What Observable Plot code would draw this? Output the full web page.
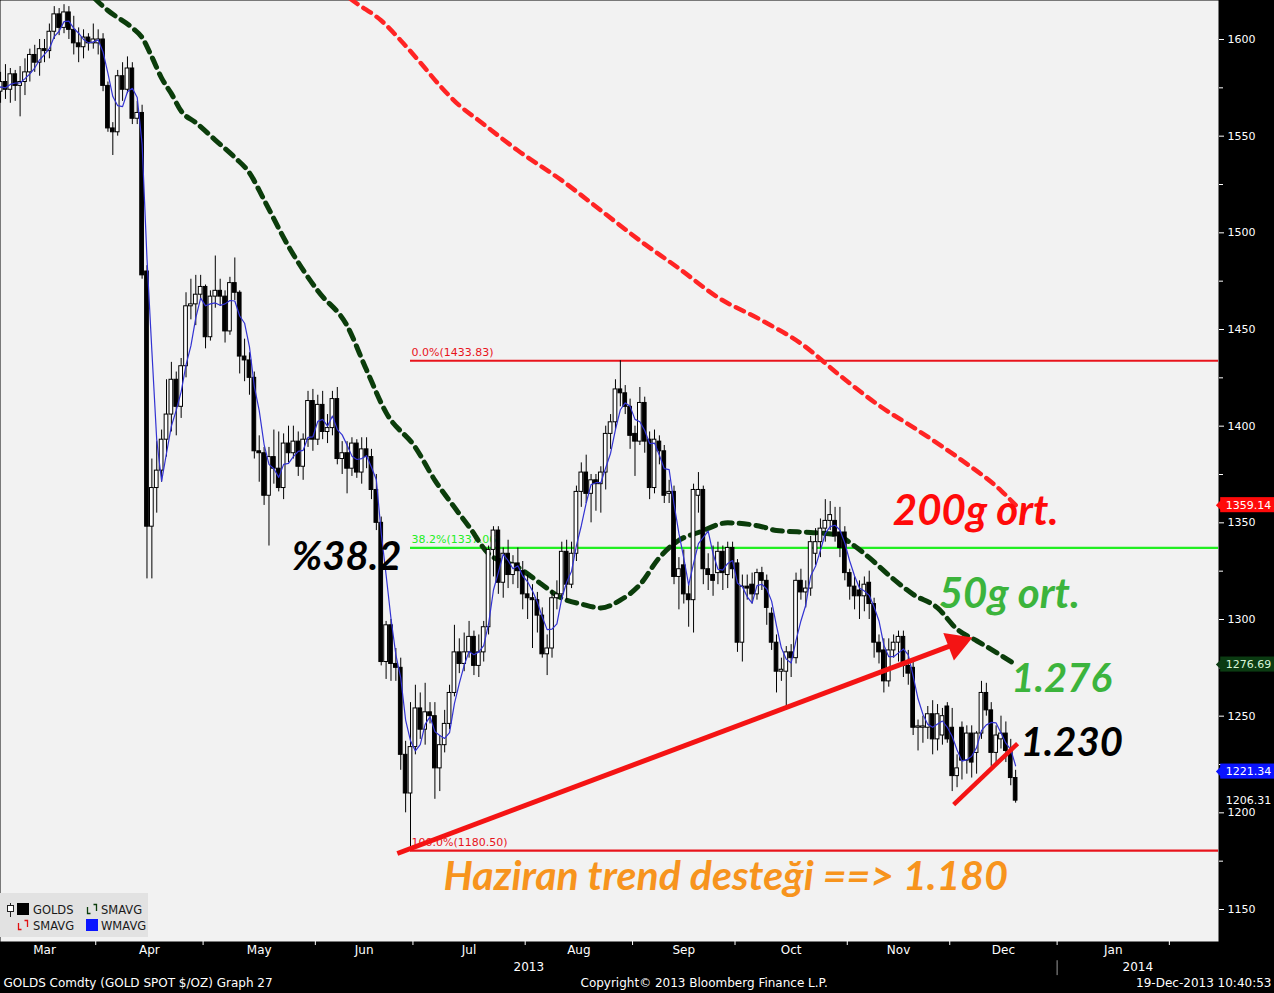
<!DOCTYPE html>
<html><head><meta charset="utf-8">
<script src="https://cdn.jsdelivr.net/npm/d3@7"></script>
<script src="https://cdn.jsdelivr.net/npm/@observablehq/plot@0.6"></script>
<style>
body{margin:0;background:#000;}
#wrap{position:relative;width:1274px;height:993px;overflow:hidden;background:#000;}
#legend{position:absolute;left:0;top:893px;width:148px;height:44px;background:#e2e2e2;font:11.5px "DejaVu Sans",sans-serif;color:#1a1a1a;}
#legend span{position:absolute;line-height:12px;}
#legend svg{position:absolute;}
</style></head><body><div id="wrap"></div>
<script>
// ---- daily OHLC, index 0 = 1 Mar 2013 (weekdays) ----
const opens = [
1579,1573,1578,1574,1582,1576,1578,1583,1592,1588,1595,1594,1604,1613,1606,1614,1605,1598,1596,1601,1598,
1598,1600,1576,1554,1552,1581,1574,1585,1559,1562,1480,1348,1368,1377,1393,1406,1424,1410,1431,1462,1463,1468,
1472,1446,1467,1470,1467,1449,1474,1469,1436,1434,1425,1387,1386,1364,1384,1378,1368,1391,1386,1392,1379,1393,1413,
1393,1411,1397,1399,1414,1383,1386,1378,1391,1376,1388,1384,1367,1350,1278,1297,1277,1275,1230,1210,
1234,1254,1243,1252,1250,1223,1235,1246,1262,1283,1277,1283,1291,1276,1283,1296,1336,1346,1319,1334,1323,1329,1325,
1313,1311,1310,1302,1282,1285,1311,1313,1335,1318,1334,1366,1376,1365,1372,1370,1376,1396,1402,1419,1417,1410,
1396,1392,1412,1393,1368,1392,1387,1365,1366,1322,1328,1313,1310,1364,1367,1326,1323,1324,1335,1323,1337,
1329,1288,1317,1318,1313,1324,1320,1303,1288,1273,1273,1283,1280,1320,1314,1316,1334,1340,1347,1351,1351,1345,1345,
1324,1317,1315,1312,1319,1308,1288,1284,1268,1284,1288,1291,1276,1275,1244,1244,1244,1251,1238,1240,1255,
1244,1219,1244,1227,1241,1231,1241,1262,1253,1231,1238,1241,1232,1218];
const highs = [
1585,1583,1587,1585,1584,1586,1590,1595,1597,1600,1600,1608,1617,1616,1618,1617,1612,1606,1605,1603,1608,
1605,1603,1578,1557,1584,1588,1591,1588,1568,1566,1483,1383,1392,1398,1424,1433,1428,1435,1469,1476,1478,1478,
1473,1470,1488,1476,1470,1477,1487,1470,1445,1438,1428,1395,1389,1389,1398,1397,1396,1400,1400,1397,1396,1418,1419,
1416,1418,1406,1418,1420,1392,1392,1394,1393,1394,1394,1388,1375,1353,1299,1300,1285,1280,1237,1257,
1266,1262,1267,1257,1257,1240,1253,1266,1297,1290,1293,1299,1294,1292,1299,1338,1348,1348,1337,1341,1333,1337,1330,
1323,1318,1314,1306,1292,1315,1320,1340,1341,1340,1369,1381,1385,1375,1375,1379,1400,1406,1424,1433.83,1421,1414,
1400,1420,1415,1397,1398,1395,1390,1372,1369,1332,1336,1318,1370,1376,1369,1334,1338,1340,1338,1340,1340,
1331,1323,1323,1324,1326,1327,1323,1306,1292,1280,1286,1287,1324,1326,1320,1343,1347,1352,1362,1361,1358,1358,1348,
1326,1322,1320,1322,1325,1311,1292,1290,1290,1292,1294,1294,1284,1278,1248,1250,1255,1258,1256,1254,1257,
1254,1230,1247,1245,1245,1242,1268,1267,1257,1245,1250,1247,1238,1222];
const lows = [
1566,1567,1569,1567,1568,1560,1571,1578,1583,1581,1588,1590,1600,1602,1603,1600,1592,1588,1590,1594,1595,
1592,1573,1552,1540,1550,1568,1572,1556,1556,1476,1321,1321,1355,1371,1384,1397,1395,1404,1425,1455,1452,1465,
1440,1444,1461,1462,1443,1447,1465,1427,1423,1416,1383,1371,1359,1338,1370,1366,1362,1381,1383,1374,1372,1389,1387,
1390,1393,1391,1395,1380,1375,1365,1374,1373,1370,1378,1362,1346,1276,1269,1268,1268,1222,1200,1180.5,
1230,1238,1235,1246,1207,1211,1231,1243,1260,1272,1273,1280,1271,1270,1278,1292,1322,1313,1311,1316,1318,1316,1305,
1300,1285,1293,1280,1271,1280,1305,1310,1310,1316,1330,1358,1360,1350,1356,1355,1367,1388,1398,1410,1406,1388,
1374,1390,1386,1362,1365,1380,1360,1360,1318,1305,1308,1296,1293,1355,1318,1315,1312,1318,1315,1316,1321,
1283,1278,1310,1308,1310,1315,1297,1284,1262,1268,1253,1270,1277,1310,1306,1312,1328,1332,1340,1346,1340,1332,1320,
1310,1305,1300,1304,1300,1280,1277,1262,1265,1280,1278,1270,1266,1240,1232,1236,1238,1230,1232,1235,1236,
1211,1213,1217,1220,1218,1220,1238,1250,1224,1224,1233,1226,1214,1205];
const closes = [
1573,1578,1574,1582,1576,1578,1583,1592,1588,1595,1594,1604,1613,1606,1614,1605,1598,1596,1601,1598,1600,
1600,1576,1554,1552,1581,1574,1585,1559,1562,1478,1348,1368,1377,1393,1406,1424,1410,1431,1462,1463,1468,1472,
1446,1467,1470,1467,1449,1474,1469,1436,1434,1425,1387,1386,1364,1384,1378,1368,1391,1386,1392,1379,1393,1413,1393,
1411,1397,1399,1414,1383,1386,1378,1391,1376,1388,1384,1367,1350,1278,1297,1277,1275,1230,1210,1234,
1254,1243,1252,1250,1223,1235,1246,1262,1283,1277,1283,1291,1276,1283,1296,1336,1346,1319,1334,1323,1329,1325,1313,
1311,1310,1302,1282,1285,1311,1313,1335,1318,1334,1366,1376,1365,1372,1370,1376,1396,1402,1419,1417,1410,1395,
1392,1412,1392,1368,1393,1387,1364,1366,1322,1326,1313,1310,1367,1367,1326,1323,1320,1335,1324,1337,1326,
1288,1317,1316,1313,1324,1320,1306,1288,1273,1274,1283,1280,1320,1314,1316,1340,1340,1347,1351,1354,1343,1337,1324,
1317,1312,1312,1318,1308,1288,1283,1268,1284,1288,1291,1276,1272,1244,1244,1244,1251,1238,1251,1250,1238,
1219,1223,1227,1241,1226,1241,1262,1253,1231,1240,1241,1232,1218,1206.31];

// ---- moving averages (day index, value) ----
const sma50Day = [18,20,23,28,30,32,34,36,38,41,45,49,52,55,60,66,72,76,80,86,90,94,97,101,107,112,116,120,124,128,132,136,140,144,150,157,160,167,172,176,179,183,188,193,197,201,205,209];
const sma50Val = [1628,1622,1615,1606,1601,1591,1580,1572,1563,1557,1548,1539,1531,1517,1493,1470,1452,1429,1407,1389,1372,1358,1348,1334,1327,1318,1311,1308,1306,1310,1318,1332,1341,1345,1350,1348,1346,1345,1344,1338,1332,1323,1313,1306,1295,1289,1283,1276.69];
const sma200Day = [70,74,79,83,87,91,95,99,107,116,124,132,140,148,157,165,173,181,189,198,206,209];
const sma200Val = [1626,1618.6,1609.8,1599.5,1588.1,1576.2,1565.9,1558.1,1542.6,1527.1,1511.6,1496,1481.6,1466.6,1454.7,1442.8,1426.2,1410.7,1397.8,1382.3,1366.7,1359.14];

// ---- axes ----
const monthNames = ["Mar","Apr","May","Jun","Jul","Aug","Sep","Oct","Nov","Dec","Jan"];
const monthStart = [0,21,43,66,86,109,131,152,175,196,218,241];
const yearNames = ["2013","2014"];
const yTicks = [1150,1200,1250,1300,1350,1400,1450,1500,1550,1600];
const yMinor = [1175,1225,1275,1325,1375,1425,1475,1525,1575];

// ---- fibonacci levels (from 28 Jun low) ----
const fibLabels = ["0.0%(1433.83)","38.2%(1337.06)","100.0%(1180.50)"];
const fibLevels = [1433.83,1337.06,1180.50];
const fibColors = ["#e8141c","#22ee22","#e8141c"];
const fibStartDay = 85;

// ---- last-value tags ----
const tagValues = [1359.14,1276.69,1221.34];
const tagLabels = ["1359.14","1276.69","1221.34"];
const tagFills = ["#ff0a0a","#0b3b12","#0a14ff"];
const tagText = ["#ffffff","#d8f5d8","#ffffff"];
const lastPrice = 1206.31;

// ---- annotations ----
const noteTexts = ["%38.2","200g ort.","50g ort.","1.276","1.230","Haziran trend desteği ==> 1.180"];
const noteDay = [71.9,200.8,207.7,218.4,220.5,149.6];
const noteVal = [1332.1,1355.9,1312.9,1268.9,1235.9,1167.1];
const noteColors = ["#000000","#ff0a0a","#3cb43c","#3cb43c","#000000","#f7941d"];
const noteSizes = [40,42,42,40,40,41];
const trendDay = [82.3,196.0];
const trendVal = [1178.97,1286.7];
const shortDay = [196.3,209.4];
const shortVal = [1204.3,1235.8];

// ---------------------------------------------------------------
const xMin = 0.984, xMax = 250.57, yMin = 1133.45, yMax = 1620.17;
const candles = closes.map((c,i)=>({i, o:opens[i], h:highs[i], l:lows[i], c}));
const up = candles.filter(d=>d.c>=d.o), down = candles.filter(d=>d.c<d.o);
const bodyTop = d => Math.abs(d.c-d.o) < 0.7 ? d.o + 0.7 : d.c;
const sma50 = sma50Day.map((d,k)=>({d, v:sma50Val[k]}));
const sma200 = sma200Day.map((d,k)=>({d, v:sma200Val[k]}));
const months = monthNames.map((name,k)=>({name, pos:(monthStart[k]+monthStart[k+1])/2 - 0.5}));
const bounds = monthStart.slice(1).map(s=>s-0.5).filter(b=>b>xMin && b<xMax);
const janB = monthStart[10]-0.5;
const years = [{name:yearNames[0], pos:(xMin+janB)/2},{name:yearNames[1], pos:(janB+xMax)/2}];
const fibs = fibLevels.map((v,k)=>({v, label:fibLabels[k], color:fibColors[k]}));
const tags = tagValues.map((v,k)=>({v, label:tagLabels[k], fill:tagFills[k], tc:tagText[k]}));
const notes = noteTexts.map((t,k)=>({t, d:noteDay[k], v:noteVal[k], color:noteColors[k], size:noteSizes[k]}));

const white = "#ffffff";
const marks = [
  Plot.frame({fill:"#f2f2f2", stroke:null}),
  ...fibs.map(f=>Plot.ruleY([f.v], {x1:fibStartDay, x2:xMax, stroke:f.color, strokeWidth:2.2})),
  ...fibs.map(f=>Plot.text([f], {x:fibStartDay, y:"v", text:"label", fill:f.color, textAnchor:"start", dx:1, dy:-8, fontSize:11})),
  Plot.line(sma200, {x:"d", y:"v", stroke:"#ff2424", strokeWidth:4.5, strokeDasharray:"9,7", curve:"monotone-x", clip:true}),
  Plot.line(sma50, {x:"d", y:"v", stroke:"#0b3d0b", strokeWidth:5, strokeDasharray:"10,7", curve:"monotone-x", clip:true}),
  Plot.ruleX(candles, {x:"i", y1:"l", y2:"h", stroke:"#000", strokeWidth:1, clip:true}),
  Plot.rect(up, {x1:d=>d.i-0.38, x2:d=>d.i+0.38, y1:"o", y2:bodyTop, fill:"#ffffff", stroke:"#000", strokeWidth:1, clip:true}),
  Plot.rect(down, {x1:d=>d.i-0.38, x2:d=>d.i+0.38, y1:"o", y2:"c", fill:"#000", stroke:"#000", strokeWidth:1, clip:true}),
  Plot.lineY(candles, Plot.windowY({k:4, anchor:"end", reduce:"mean"}, {x:"i", y:"c", stroke:"#3232d2", strokeWidth:1.2, clip:true})),
  Plot.link([0], {x1:()=>trendDay[0], y1:()=>trendVal[0], x2:()=>trendDay[1], y2:()=>trendVal[1], stroke:"#f41414", strokeWidth:5}),
  Plot.dot([0], {x:()=>trendDay[1]+0.9, y:()=>trendVal[1]+0.8, symbol:"triangle", r:11, fill:"#f41414", stroke:null, rotate:69}),
  Plot.link([0], {x1:()=>shortDay[0], y1:()=>shortVal[0], x2:()=>shortDay[1], y2:()=>shortVal[1], stroke:"#f41414", strokeWidth:4.5}),
  ...notes.map(n=>Plot.text([n], {x:"d", y:"v", text:"t", fill:n.color, fontSize:n.size, fontWeight:"bold", fontStyle:"italic", fontFamily:"Lato, 'Open Sans', sans-serif"})),
  Plot.axisY(yMinor, {anchor:"right", tickSize:4, tickFormat:()=>"", color:white}),
  Plot.axisY(yTicks, {anchor:"right", tickSize:5, tickPadding:4, tickFormat:d=>String(d), color:white, fontSize:11}),
  Plot.rect(tags, {x1:xMax+0.45, x2:xMax+12, y1:d=>d.v-3.9, y2:d=>d.v+3.9, fill:"fill"}),
  Plot.dot(tags, {x:xMax+0.6, y:"v", symbol:"diamond2", r:5, fill:"fill", stroke:null}),
  Plot.text(tags, {x:xMax+1.5, y:"v", text:"label", fill:"tc", textAnchor:"start", fontSize:11}),
  Plot.text([lastPrice], {x:xMax+1.5, y:d=>d, text:d=>d.toFixed(2), fill:white, textAnchor:"start", fontSize:11}),
  Plot.axisX(bounds, {anchor:"bottom", tickSize:4, tickFormat:()=>"", color:white}),
  Plot.text(months, {x:"pos", frameAnchor:"bottom", dy:12, text:"name", fill:white, fontSize:12}),
  Plot.text(years, {x:"pos", frameAnchor:"bottom", dy:29, text:"name", fill:white, fontSize:12}),
  Plot.ruleX([janB], {y1:1123.5, y2:1115.8, stroke:"#9a9a9a", strokeWidth:1}),
  Plot.text(["GOLDS Comdty (GOLD SPOT $/OZ) Graph 27"], {frameAnchor:"bottom-left", dx:3, dy:45, text:d=>d, fill:white, textAnchor:"start", fontSize:12}),
  Plot.text(["Copyright© 2013 Bloomberg Finance L.P."], {frameAnchor:"bottom-left", dx:580, dy:45, text:d=>d, fill:white, textAnchor:"start", fontSize:12}),
  Plot.text(["19-Dec-2013 10:40:53"], {frameAnchor:"bottom-right", dx:53, dy:45, text:d=>d, fill:white, textAnchor:"end", fontSize:12})
];

const chart = Plot.plot({
  width:1274, height:993,
  marginLeft:0, marginRight:56, marginTop:0, marginBottom:52,
  style:{background:"#000", fontFamily:"'DejaVu Sans', sans-serif", fontSize:"11px"},
  x:{type:"linear", domain:[xMin,xMax], axis:null},
  y:{type:"linear", domain:[yMin,yMax], axis:null},
  color:{type:"identity"},
  marks
});
const wrap = document.getElementById("wrap");
wrap.appendChild(chart);

const leg = document.createElement("div");
leg.id = "legend";
leg.innerHTML = `
<svg style="left:6px;top:10px" width="10" height="14"><line x1="4.5" y1="0" x2="4.5" y2="14" stroke="#222"/><rect x="1.5" y="2.5" width="6" height="6" fill="#fff" stroke="#222"/></svg>
<svg style="left:17px;top:10px" width="12" height="12"><rect width="12" height="12" fill="#000"/></svg>
<span style="left:33px;top:11px">GOLDS</span>
<svg style="left:86px;top:10px" width="12" height="12"><path d="M1.5 4V10.5H4.5M7.5 1.5H10.5V8" fill="none" stroke="#0b3d0b" stroke-width="1.3"/></svg>
<span style="left:101px;top:11px">SMAVG</span>
<svg style="left:17px;top:26px" width="12" height="12"><path d="M1.5 4V10.5H4.5M7.5 1.5H10.5V8" fill="none" stroke="#e01010" stroke-width="1.3"/></svg>
<span style="left:33px;top:27px">SMAVG</span>
<svg style="left:86px;top:26px" width="12" height="12"><rect width="12" height="12" fill="#0a14ff"/></svg>
<span style="left:101px;top:27px">WMAVG</span>`;
wrap.appendChild(leg);
</script></body></html>
